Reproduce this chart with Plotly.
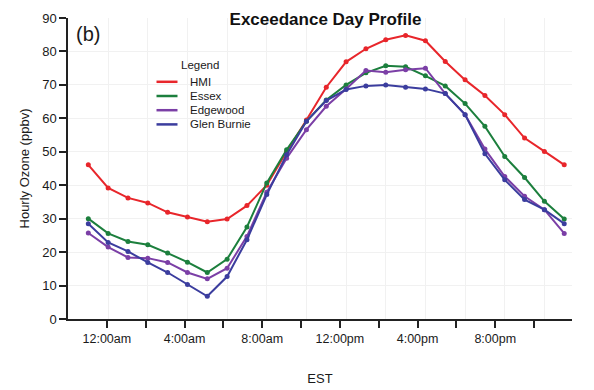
import plotly.graph_objects as go

# ---- data ----
hours = list(range(-1, 24))  # 11pm of previous day ... 11pm
series_names = ["HMI", "Essex", "Edgewood", "Glen Burnie"]
hmi = [46.1, 39.2, 36.2, 34.7, 31.9, 30.5, 29.1, 29.9, 33.9, 40.0, 50.0, 59.5,
       69.3, 76.9, 80.8, 83.5, 84.8, 83.2, 77.0, 71.5, 66.8, 61.1, 54.1, 50.1, 46.1]
essex = [30.0, 25.6, 23.2, 22.2, 19.7, 17.0, 13.9, 17.9, 27.5, 40.7, 50.6, 59.1,
         65.5, 70.0, 73.6, 75.7, 75.4, 72.7, 69.7, 64.4, 57.6, 48.6, 42.3, 35.2, 29.9]
edgewood = [25.7, 21.5, 18.4, 18.2, 16.9, 13.9, 12.0, 15.2, 24.7, 37.9, 48.1, 56.6,
            63.6, 68.8, 74.3, 73.8, 74.5, 75.0, 67.4, 61.1, 50.8, 42.6, 36.7, 32.7, 25.6]
glen_burnie = [28.5, 22.9, 20.2, 16.9, 13.9, 10.3, 6.8, 12.7, 23.7, 37.2, 49.1, 59.1,
               65.3, 68.6, 69.7, 70.0, 69.3, 68.8, 67.4, 61.1, 49.4, 41.6, 35.7, 32.7, 28.5]
series_values = [hmi, essex, edgewood, glen_burnie]
colors = ["#e8262b", "#1c7f3d", "#7b3fa6", "#3b3d9e"]

tick_hours = list(range(0, 24, 2))
tick_labels = ["12:00am", "", "4:00am", "", "8:00am", "", "12:00pm", "", "4:00pm", "", "8:00pm", ""]
y_ticks = list(range(0, 91, 10))

FONT = "Arial, Liberation Sans, sans-serif"
TXT = "#1a1a1a"

fig = go.Figure()
for name, vals, col in zip(series_names, series_values, colors):
    fig.add_trace(go.Scatter(
        x=hours, y=vals, name=name, mode="lines+markers",
        line=dict(color=col, width=2),
        marker=dict(color=col, size=5, symbol="circle"),
        showlegend=False,
    ))
# empty trace carrying the labelled time axis
fig.add_trace(go.Scatter(x=[None], y=[None], xaxis="x2", showlegend=False, hoverinfo="skip"))

W, H = 594, 390
ML, MR, MT, MB = 68, 22, 18, 71
pw = W - ML - MR
ph = H - MT - MB

def px(xp):
    return (xp - ML) / pw

def py(yp):
    return (H - MB - yp) / ph

annotations = [
    dict(text="(b)", x=px(74), y=py(34), xref="paper", yref="paper",
         xanchor="left", yanchor="middle", showarrow=False,
         font=dict(family=FONT, size=20, color=TXT)),
    dict(text="Legend", x=px(199.5), y=py(65), xref="paper", yref="paper",
         xanchor="center", yanchor="middle", showarrow=False,
         font=dict(family=FONT, size=11.5, color=TXT)),
]
shapes = []
for i, (name, col) in enumerate(zip(series_names, colors)):
    yc = 81.8 + 14.2 * i
    annotations.append(dict(text=name, x=px(187.5), y=py(yc), xref="paper", yref="paper",
                            xanchor="left", yanchor="middle", showarrow=False,
                            font=dict(family=FONT, size=11.5, color=TXT)))
    shapes.append(dict(type="line", xref="paper", yref="paper",
                       x0=px(156.5), x1=px(177.5), y0=py(yc), y1=py(yc),
                       line=dict(color=col, width=2.5)))

fig.update_layout(
    template="none",
    width=W, height=H,
    margin=dict(l=ML, r=MR, t=MT, b=MB, pad=0),
    paper_bgcolor="white", plot_bgcolor="white",
    font=dict(family=FONT, size=13, color=TXT),
    title=dict(text="<b>Exceedance Day Profile</b>", x=325.5 / W, xref="container", xanchor="center",
               y=1 - 19 / H, yref="container", yanchor="middle",
               font=dict(family=FONT, size=17, color="#111111")),
    xaxis=dict(range=[-2.024, 23.392], tickvals=tick_hours, showticklabels=False, ticks="",
               showgrid=True, gridcolor="#f1f1f1", gridwidth=1, showline=False, zeroline=False,
               automargin=False),
    xaxis2=dict(overlaying="x", anchor="y", side="bottom", range=[-2.0, 23.952],
                tickvals=tick_hours, ticktext=tick_labels, ticks="outside", ticklen=7,
                tickwidth=1.5, tickcolor="#222222", showline=True, linecolor="#222222",
                linewidth=1.5, showgrid=False, zeroline=False, automargin=False,
                tickfont=dict(family=FONT, size=12.5, color=TXT),
                title=dict(text="EST", standoff=29, font=dict(family=FONT, size=13, color=TXT))),
    yaxis=dict(range=[0, 90], tickvals=y_ticks, ticks="outside", ticklen=7, tickwidth=1.5,
               tickcolor="#222222", showline=True, linecolor="#222222", linewidth=1.5,
               showgrid=True, gridcolor="#f1f1f1", gridwidth=1, zeroline=False, automargin=False,
               tickfont=dict(family=FONT, size=13, color=TXT),
               title=dict(text="Hourly Ozone (ppbv)", standoff=10,
                          font=dict(family=FONT, size=13, color=TXT))),
    annotations=annotations,
    shapes=shapes,
)

fig.write_html("out.html", config={"displayModeBar": False},
               post_script="document.body.style.margin='0';document.body.style.padding='0';")
